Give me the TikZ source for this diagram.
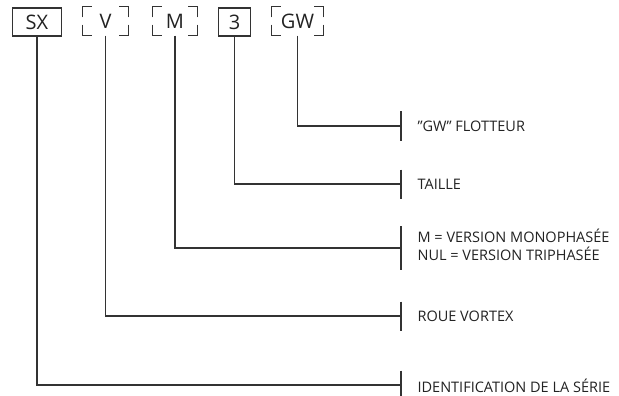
\documentclass[tikz,border=0pt]{standalone}
\usepackage{fontspec}
\setmainfont{Open Sans}
\definecolor{ink}{HTML}{333333}
\definecolor{txt}{HTML}{222222}
\newcommand\cornerbrackets[1]{%
  \draw ([yshift=-11pt]#1.north west) |- ([xshift=10pt]#1.north west);
  \draw ([yshift=-11pt]#1.north east) |- ([xshift=-10pt]#1.north east);
  \draw ([yshift=11pt]#1.south west) |- ([xshift=10pt]#1.south west);
  \draw ([yshift=11pt]#1.south east) |- ([xshift=-10pt]#1.south east);}
\begin{document}
\begin{tikzpicture}[x=1pt,y=-1pt, line width=1.2pt, draw=ink,
  codebox/.style={minimum height=28pt, inner sep=0pt, font=\fontsize{20}{21}\selectfont, text=txt},
  solidbox/.style={codebox, draw=ink},
  lbl/.style={anchor=west, inner sep=0pt, font=\fontsize{14.5}{17.5}\selectfont, align=left, text=txt}]
\useasboundingbox (0,0) rectangle (619,396);
% code boxes
\node[solidbox, minimum width=49pt] (sx) at (37,22) {SX};
\node[codebox, minimum width=45pt] (v) at (105.5,21) {V};
\node[codebox, minimum width=44pt] (m) at (175,21) {M};
\node[solidbox, minimum width=32pt] (n3) at (234.5,22) {3};
\node[codebox, minimum width=51pt] (gw) at (297.5,21) {GW};
\cornerbrackets{v}
\cornerbrackets{m}
\cornerbrackets{gw}
% end coordinates
\coordinate (e5) at (401,126);
\coordinate (e4) at (401,184);
\coordinate (e3) at (401,248);
\coordinate (e2) at (401,316);
\coordinate (e1) at (401,385);
% labels
\node[lbl] (l5) at (417,126) {”GW” FLOTTEUR};
\node[lbl] (l4) at (417,184) {TAILLE};
\node[lbl] (l3) at (417,245) {M = VERSION MONOPHASÉE\\NUL = VERSION TRIPHASÉE};
\node[lbl] (l2) at (417,316) {ROUE VORTEX};
\node[lbl] (l1) at (417,386) {IDENTIFICATION DE LA SÉRIE};
% connectors
\draw (sx.south) |- (e1);
\draw (v.south) |- (e2);
\draw (m.south) |- (e3);
\draw (n3.south) |- (e4);
\draw (gw.south) |- (e5);
% ticks
\draw ([yshift=14.5pt]e5) -- ([yshift=-14.5pt]e5);
\draw ([yshift=14.5pt]e4) -- ([yshift=-14.5pt]e4);
\draw ([yshift=22pt]e3) -- ([yshift=-22pt]e3);
\draw ([yshift=14.5pt]e2) -- ([yshift=-14.5pt]e2);
\draw ([yshift=14.5pt]e1) -- ([yshift=-14.5pt]e1);
\end{tikzpicture}
\end{document}
